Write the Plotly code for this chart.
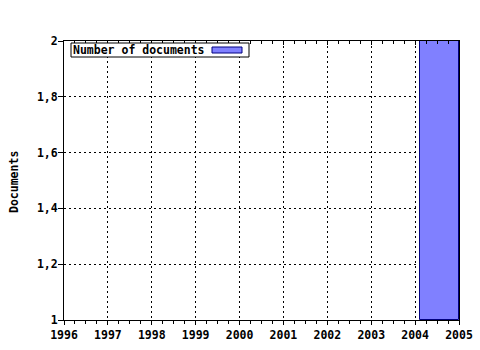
import plotly.graph_objects as go

years = [2005]
documents = [2]
base_value = 1
series_name = "Number of documents"
y_title = "Documents"
y_ticks = [1, 1.2, 1.4, 1.6, 1.8, 2]
x_ticks = list(range(1996, 2006))

W, H = 480, 350
L, R, T, B = 64, 21, 41, 30
pw, ph = W - L - R, H - T - B

def px(x):
    return (x - L) / pw

def py(y):
    return (H - B - y) / ph

font = dict(family="DejaVu Sans Mono", size=11.5, color="black", weight="bold")
grid_dash = "2px,3px"

fig = go.Figure()
fig.add_trace(go.Bar(
    x=years, y=[d - base_value for d in documents], base=base_value,
    offset=-0.9, width=0.9,
    marker=dict(color="#8080ff", line=dict(color="#000080", width=1)),
    name=series_name, showlegend=False,
))
fig.add_trace(go.Scatter(x=[1996], y=[1], xaxis="x2", mode="markers",
                         marker=dict(opacity=0), showlegend=False, hoverinfo="skip"))

fig.update_layout(
    width=W, height=H,
    margin=dict(l=L, r=R, t=T, b=B, pad=0),
    paper_bgcolor="white", plot_bgcolor="white",
    separators=",.",
    font=font,
    bargap=0,
    xaxis=dict(
        range=[1996, 2005], tickvals=x_ticks, ticktext=[str(v) for v in x_ticks],
        ticks="outside", ticklen=4, tickcolor="black", tickwidth=1,
        showline=True, linecolor="black", linewidth=1,
        showgrid=True, gridcolor="black", griddash=grid_dash, gridwidth=1,
        minor=dict(dtick=0.25, ticks="outside", ticklen=3, tickcolor="black", showgrid=False),
        tickfont=font, zeroline=False, automargin=False,
    ),
    xaxis2=dict(
        range=[1996, 2005], overlaying="x", side="top", tickvals=x_ticks,
        showticklabels=False, ticks="inside", ticklen=4, tickcolor="black",
        showline=True, linecolor="black", showgrid=False, zeroline=False,
        minor=dict(dtick=0.25, ticks="inside", ticklen=3, tickcolor="black", showgrid=False),
        automargin=False,
    ),
    yaxis=dict(
        range=[1, 2], tickvals=y_ticks, tickformat="~g",
        ticks="outside", ticklen=5, tickcolor="black",
        showline=True, linecolor="black", linewidth=1, mirror=True,
        showgrid=True, gridcolor="black", griddash=grid_dash, gridwidth=1,
        zeroline=False, tickfont=font, ticklabelstandoff=-2,
        automargin=False,
    ),
)

# y-axis title
fig.add_annotation(
    xref="paper", yref="paper", x=px(14), y=py(182), xanchor="center", yanchor="middle",
    text=y_title, textangle=-90, showarrow=False, font=font,
)

# legend box drawn as shapes + text
fig.add_shape(type="rect", xref="paper", yref="paper",
              x0=px(71), x1=px(249), y0=py(43), y1=py(57),
              fillcolor="white", line=dict(color="black", width=1))
fig.add_shape(type="rect", xref="paper", yref="paper",
              x0=px(212), x1=px(242), y0=py(47), y1=py(53),
              fillcolor="#8080ff", line=dict(color="#000080", width=1))
fig.add_annotation(
    xref="paper", yref="paper", x=px(72), y=py(50), xanchor="left", yanchor="middle",
    text=series_name, showarrow=False, font=font, borderpad=0,
)

fig.write_html("out.html")
